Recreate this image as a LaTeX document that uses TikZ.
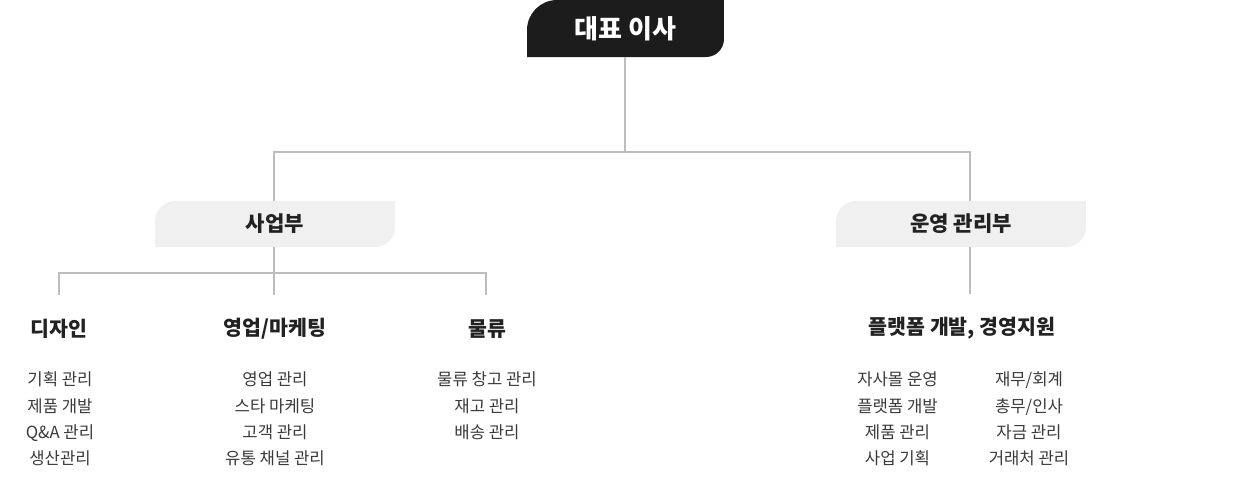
\documentclass[tikz,border=0pt]{standalone}
\usepackage{fontspec}
\setmainfont{Noto Sans CJK KR}
\usepackage{xcolor}
\usepackage{tikz}
\usetikzlibrary{
  positioning,
  backgrounds
}
\definecolor{orgblack} {HTML}{1C1C1C}
\definecolor{orgpanel} {HTML}{F0F0F0}
\definecolor{orgline}  {HTML}{BDBDBD}
\definecolor{orgtext}  {HTML}{222222}
\definecolor{orgitem}  {HTML}{3A3A3A}

% panel behind a node: rounded top-left (#4) and bottom-right (#3) only
\newcommand{\leafbox}[4]{%
  \fill[#2] (#1.north east) -- ([yshift=#3]#1.south east)
    arc[start angle=0, end angle=-90, radius=#3] -- (#1.south west)
    -- ([yshift=-#4]#1.north west)
    arc[start angle=180, end angle=90, radius=#4] -- cycle;}

\begin{document}
\begin{tikzpicture}[
  x=0.02cm, y=0.02cm,
  every node/.style={inner sep=0pt, outer sep=0pt},
  chief/.style={minimum width=3.94cm, minimum height=1.14cm, text=white,
    font=\fontsize{14.8}{16}\selectfont\bfseries},
  dept/.style={minimum width=4.8cm, minimum height=0.92cm, text=orgtext,
    font=\fontsize{12}{14}\selectfont\bfseries},
  team/.style={text=orgtext, font=\fontsize{11.7}{14}\selectfont\bfseries},
  duty/.style={anchor=north, align=center, text=orgitem,
    font=\fontsize{9.5}{14.97}\selectfont},
  link/.style={draw=orgline, line width=0.7pt},
]
\useasboundingbox (0,0) rectangle (1250,-498);

% top
\node[chief] (ceo) at (625.5,-28.5) {대표 이사};

% departments
\node[dept] (biz) at (275,-224) {사업부};
\node[dept, minimum width=5cm] (ops) at (961,-224) {운영 관리부};

% panel shapes
\begin{scope}[on background layer]
  \leafbox{ceo}{orgblack}{0.36cm}{0.6cm}
  \leafbox{biz}{orgpanel}{0.4cm}{0.4cm}
  \leafbox{ops}{orgpanel}{0.4cm}{0.4cm}
\end{scope}

% teams
\node[team] (design) at (59,-329)  {디자인};
\node[team] (sales)  at (275,-329) {영업/마케팅};
\node[team] (logi)   at (487,-329) {물류};
\node[team] (plat)   at (962,-328) {플랫폼 개발, 경영지원};

% duties
\node[duty] (design-list) at (60,-372)  {기획 관리\\제품 개발\\Q\&A 관리\\생산관리};
\node[duty] (sales-list)  at (275,-372) {영업 관리\\스타 마케팅\\고객 관리\\유통 채널 관리};
\node[duty] (logi-list)   at (487,-372) {물류 창고 관리\\재고 관리\\배송 관리};
\node[duty] (plat-left)   at (897.5,-372) {자사몰 운영\\플랫폼 개발\\제품 관리\\사업 기획};
\node[duty] (plat-right)  at (1029,-372) {재무/회계\\총무/인사\\자금 관리\\거래처 관리};

% connectors
\coordinate (split)    at (625,-152);
\coordinate (biz-in)   at (274,-201);
\coordinate (ops-in)   at (970,-201);
\coordinate (biz-out)  at (274,-247);
\coordinate (biz-bus)  at (274,-273);
\coordinate (design-in) at (59,-295);
\coordinate (sales-in) at (274,-295);
\coordinate (logi-in)  at (486,-295);
\coordinate (ops-out)  at (970,-247);
\coordinate (plat-in)  at (970,-294);

\draw[link] (ceo.south -| split) -- (split);
\draw[link] (split) -| (biz-in);
\draw[link] (split) -| (ops-in);
\draw[link] (biz-out) -- (sales-in);
\draw[link] (biz-bus) -| (design-in);
\draw[link] (biz-bus) -| (logi-in);
\draw[link] (ops-out) -- (plat-in);
\end{tikzpicture}
\end{document}
